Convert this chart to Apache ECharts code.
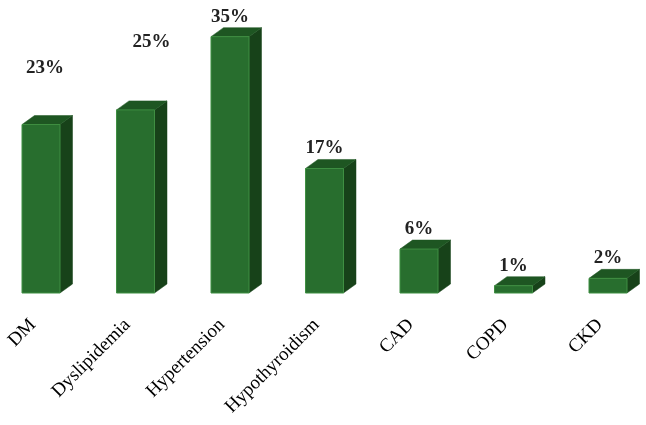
<!DOCTYPE html>
<html>
<head>
<meta charset="utf-8">
<script src="https://cdn.jsdelivr.net/npm/echarts@6/dist/echarts.min.js"></script>
<style>html,body{margin:0;padding:0;background:#fff;}#c{width:646px;height:425px;}</style>
</head>
<body>
<div id="c"></div>
<script>
const categories = ['DM', 'Dyslipidemia', 'Hypertension', 'Hypothyroidism', 'CAD', 'COPD', 'CKD'];
const values = [23, 25, 35, 17, 6, 1, 2];

// layout tweaks for value labels (pixels), separate from data
const labelShift = [[4, -36], [16, -48], [0, 0], [0, 0], [0, 0], [0, 0], [0, 0]];

const chart = echarts.init(document.getElementById('c'));
const W = 38, DX = 12.5, DY = 9, SHIFT = 8;

chart.setOption({
  animation: false,
  grid: { left: 33, right: 46, top: 0, bottom: 132 },
  xAxis: {
    type: 'category',
    data: categories,
    boundaryGap: false,
    axisLine: { show: false },
    axisTick: { show: false },
    axisLabel: {
      rotate: 45,
      margin: 29,
      interval: 0,
      color: '#000',
      fontSize: 19,
      fontFamily: 'Liberation Serif'
    }
  },
  yAxis: { type: 'value', min: 0, max: 40, show: false },
  series: [{
    type: 'custom',
    data: values.map((v, i) => [i, v]),
    encode: { x: 0, y: 1 },
    renderItem: function (params, api) {
      const i = api.value(0);
      const v = api.value(1);
      const base = api.coord([i, 0]);
      const top = api.coord([i, v]);
      const cx = base[0] + SHIFT;
      const x0 = cx - W / 2, x1 = cx + W / 2;
      const ty = top[1], by = base[1];
      const sh = labelShift[params.dataIndex];
      return {
        type: 'group',
        children: [
          { type: 'polygon', shape: { points: [[x1, ty], [x1 + DX, ty - DY], [x1 + DX, by - DY], [x1, by]] },
            style: { fill: '#174219', stroke: '#174219', lineWidth: 0.5 } },
          { type: 'polygon', shape: { points: [[x0, ty], [x0 + DX, ty - DY], [x1 + DX, ty - DY], [x1, ty]] },
            style: { fill: '#1e5622', stroke: '#1e5622', lineWidth: 0.5 } },
          { type: 'rect', shape: { x: x0, y: ty, width: W, height: by - ty },
            style: { fill: '#286e2e', stroke: '#3f8f42', lineWidth: 1 } },
          { type: 'text', style: {
              text: v + '%', x: cx + sh[0], y: ty - DY - 11 + sh[1],
              align: 'center', verticalAlign: 'middle',
              font: 'bold 19px "Liberation Serif"', fill: '#222' } }
        ]
      };
    }
  }]
});
</script>
</body>
</html>
